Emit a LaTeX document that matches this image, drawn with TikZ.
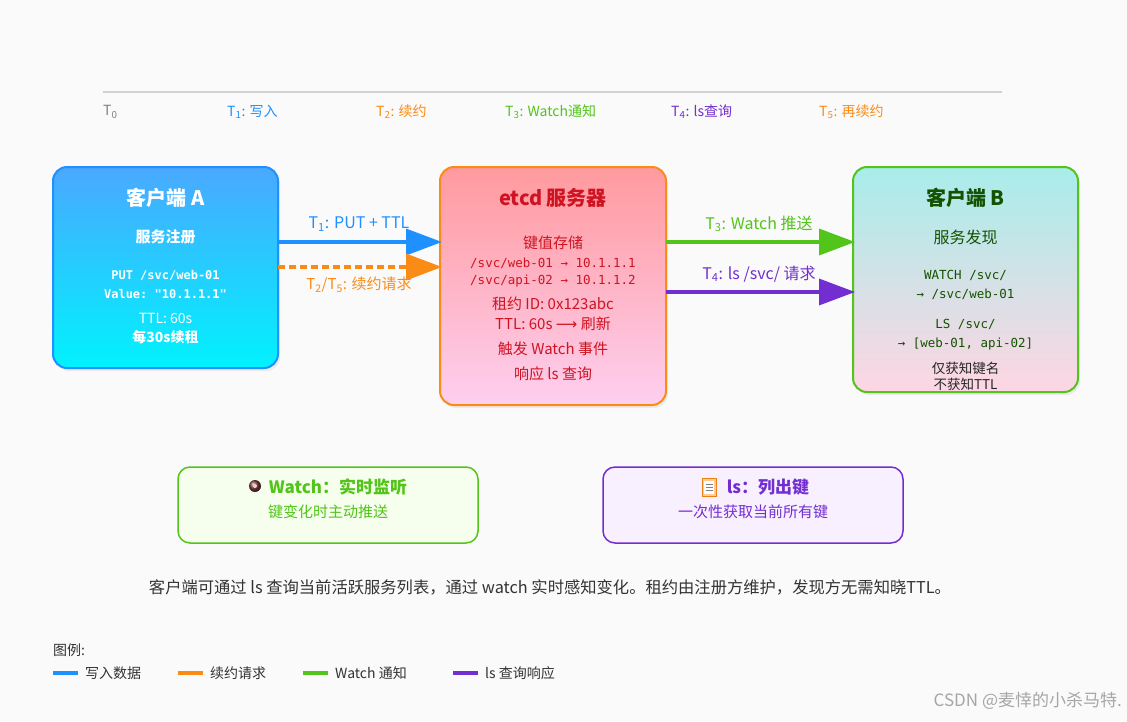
\documentclass[tikz,border=0pt]{standalone}
\usepackage{fontspec}
\setmainfont{Noto Sans CJK SC}
\setmonofont{DejaVu Sans Mono}
\newfontfamily\djv{DejaVu Sans}
\usetikzlibrary{arrows.meta,shadows}
\definecolor{bg}{HTML}{FAFAFA}
\definecolor{cblue}{HTML}{1E90FF}
\definecolor{corange}{HTML}{FA8C16}
\definecolor{cgreen}{HTML}{52C41A}
\definecolor{cpurple}{HTML}{722ED1}
\definecolor{cred}{HTML}{CF1322}
\definecolor{dgreen}{HTML}{135200}
\definecolor{tgray}{HTML}{333333}
\begin{document}
\begin{tikzpicture}[x=1pt,y=-1pt,
  box/.style={rounded corners=14pt,line width=2pt,drop shadow={shadow xshift=2pt,shadow yshift=-3pt,opacity=0.12}},
  t/.style={font=\fontsize{15}{17}\selectfont,anchor=center,inner sep=0},
  tt/.style={font=\ttfamily\fontsize{12.5}{14}\selectfont,anchor=center,inner sep=0},
  ttl/.style={font=\bfseries\fontsize{20}{22}\selectfont,anchor=center,inner sep=0},
  arr/.style={line width=3.5pt,-{Triangle[length=36pt,width=26pt]}},
  tl/.style={font=\fontsize{14}{16}\selectfont,anchor=west,inner sep=0},
  lg/.style={line width=3.5pt}]
\fill[bg] (0,0) rectangle (1127,721);
\useasboundingbox (0,0) rectangle (1127,721);
% timeline
\draw[line width=2pt,black!18] (103,92) -- (1002,92);
\node[tl,text=gray] (t0) at (103,112) {T\textsubscript{0}};
\node[tl,text=cblue] (t1) at (227,112) {T\textsubscript{1}: 写入};
\node[tl,text=corange] (t2) at (376,112) {T\textsubscript{2}: 续约};
\node[tl,text=cgreen] (t3) at (505,112) {T\textsubscript{3}: Watch通知};
\node[tl,text=cpurple] (t4) at (671,112) {T\textsubscript{4}: ls查询};
\node[tl,text=corange] (t5) at (819,112) {T\textsubscript{5}: 再续约};
% boxes
\draw[box,draw=cblue,top color={rgb,255:red,74;green,168;blue,255},bottom color={rgb,255:red,0;green,242;blue,254}] (53,167) rectangle (278,368);
\node (A) at (165.5,267.5) {};
\draw[box,draw=corange,top color={rgb,255:red,255;green,154;blue,158},bottom color={rgb,255:red,254;green,207;blue,239}] (440,167) rectangle (666,405);
\node (S) at (553,286) {};
\draw[box,draw=cgreen,top color={rgb,255:red,168;green,237;blue,234},bottom color={rgb,255:red,254;green,214;blue,227}] (853,167) rectangle (1078,392);
\node (B) at (965.5,279.5) {};
% A text
\begin{scope}[text=white]
\node[ttl] (a1) at (165.5,198) {客户端 A};
\node[t,font=\bfseries\fontsize{15}{17}\selectfont] (a2) at (165.5,237) {服务注册};
\node[tt,font=\ttfamily\bfseries\fontsize{12}{13}\selectfont] (a3) at (165.5,275) {PUT /svc/web-01};
\node[tt,font=\ttfamily\bfseries\fontsize{12}{13}\selectfont] (a4) at (165.5,294) {Value: "10.1.1.1"};
\node[t,font=\fontsize{14}{15}\selectfont] (a5) at (165.5,318) {TTL: 60s};
\node[t,font=\bfseries\fontsize{14}{15}\selectfont] (a6) at (165.5,337) {每30s续租};
\end{scope}
% server text
\begin{scope}[text=cred]
\node[ttl] (s1) at (553,198) {etcd 服务器};
\node[t] (s2) at (553,243) {键值存储};
\node[tt] (s3) at (553,263) {/svc/web-01 → 10.1.1.1};
\node[tt] (s4) at (553,281) {/svc/api-02 → 10.1.1.2};
\node[t] (s5) at (553,304) {租约 ID: 0x123abc};
\node[t] (s6) at (553,324) {TTL: 60s {\djv ⟶} 刷新};
\node[t] (s7) at (553,349) {触发 Watch 事件};
\node[t] (s8) at (553,374) {响应 ls 查询};
\end{scope}
% B text
\begin{scope}[text=dgreen]
\node[ttl] (b1) at (965.5,198) {客户端 B};
\node[t,font=\fontsize{16}{18}\selectfont] (b2) at (965.5,237) {服务发现};
\node[tt] (b3) at (965.5,275) {WATCH /svc/};
\node[tt] (b4) at (965.5,294) {→ /svc/web-01};
\node[tt] (b5) at (965.5,324) {LS /svc/};
\node[tt] (b6) at (965.5,344) {→ [web-01, api-02]};
\node[t,font=\fontsize{13.5}{15}\selectfont,text=black!85] (b7) at (965.5,368) {仅获知键名};
\node[t,font=\fontsize{13.5}{15}\selectfont,text=black!85] (b8) at (965.5,384) {不获知TTL};
\end{scope}
% arrows
\coordinate (a1o) at (278,242); \coordinate (s1i) at (442,242);
\coordinate (a2o) at (278,267); \coordinate (s2i) at (442,267);
\coordinate (s3o) at (666,242); \coordinate (b3i) at (855,242);
\coordinate (s4o) at (666,292); \coordinate (b4i) at (855,292);
\draw[arr,cblue] (a1o) -- (s1i);
\draw[arr,corange,dash pattern=on 7pt off 4pt] (a2o) -- (s2i);
\draw[arr,cgreen] (s3o) -- (b3i);
\draw[arr,cpurple] (s4o) -- (b4i);
\node[t,text=cblue,font=\fontsize{16}{18}\selectfont] (l1) at (359,224) {T\textsubscript{1}: PUT + TTL};
\node[t,text=corange] (l2) at (359,285) {T\textsubscript{2}/T\textsubscript{5}: 续约请求};
\node[t,text=cgreen,font=\fontsize{16}{18}\selectfont] (l3) at (759,224) {T\textsubscript{3}: Watch 推送};
\node[t,text=cpurple,font=\fontsize{16}{18}\selectfont] (l4) at (759,274) {T\textsubscript{4}: ls /svc/ 请求};
% small boxes
\draw[rounded corners=12pt,line width=1.5pt,draw=cgreen,fill={rgb,255:red,246;green,255;blue,237}] (178,467) rectangle (478,543);
\draw[rounded corners=12pt,line width=1.5pt,draw=cpurple,fill={rgb,255:red,249;green,240;blue,255}] (603,467) rectangle (903,543);
\node[t,text=cgreen,font=\bfseries\fontsize{17}{19}\selectfont] (w1) at (338,487) {Watch：实时监听};
\shade[ball color={rgb,255:red,130;green,60;blue,60}] (255,486) circle (6pt);
\fill[white!85!black] (255,486) circle (2pt);
\node[t,text=cgreen] (w2) at (328,512) {键变化时主动推送};
\node[t,text=cpurple,font=\bfseries\fontsize{17}{19}\selectfont] (p1) at (768,487) {ls：列出键};
\draw[fill=orange!40,draw=orange!70!brown,line width=0.8pt] (702,478) rectangle (716,496);
\fill[white] (704,481) rectangle (714,494);
\foreach \yy in {484,487,490} \draw[gray,line width=0.6pt] (705.5,\yy) -- (712.5,\yy);
\node[t,text=cpurple] (p2) at (753,512) {一次性获取当前所有键};
% caption
\node[t,text=tgray,font=\fontsize{16.3}{18}\selectfont] (cap) at (550,587) {客户端可通过 ls 查询当前活跃服务列表，通过 watch 实时感知变化。租约由注册方维护，发现方无需知晓TTL。};
% legend
\node[tl,text=tgray] (lgt) at (53,650) {图例:};
\coordinate (g1a) at (53,673); \coordinate (g1b) at (78,673);
\coordinate (g2a) at (178,673); \coordinate (g2b) at (203,673);
\coordinate (g3a) at (303,673); \coordinate (g3b) at (328,673);
\coordinate (g4a) at (453,673); \coordinate (g4b) at (478,673);
\draw[lg,cblue] (g1a) -- (g1b);
\draw[lg,corange] (g2a) -- (g2b);
\draw[lg,cgreen] (g3a) -- (g3b);
\draw[lg,cpurple] (g4a) -- (g4b);
\node[tl,text=tgray] (g1) at (85,673) {写入数据};
\node[tl,text=tgray] (g2) at (210,673) {续约请求};
\node[tl,text=tgray] (g3) at (335,673) {Watch 通知};
\node[tl,text=tgray] (g4) at (485,673) {ls 查询响应};
\node[t,anchor=east,text=black!35,font=\fontsize{17}{19}\selectfont] (wm) at (1122,701) {CSDN @麦悻的小杀马特.};
\end{tikzpicture}
\end{document}
